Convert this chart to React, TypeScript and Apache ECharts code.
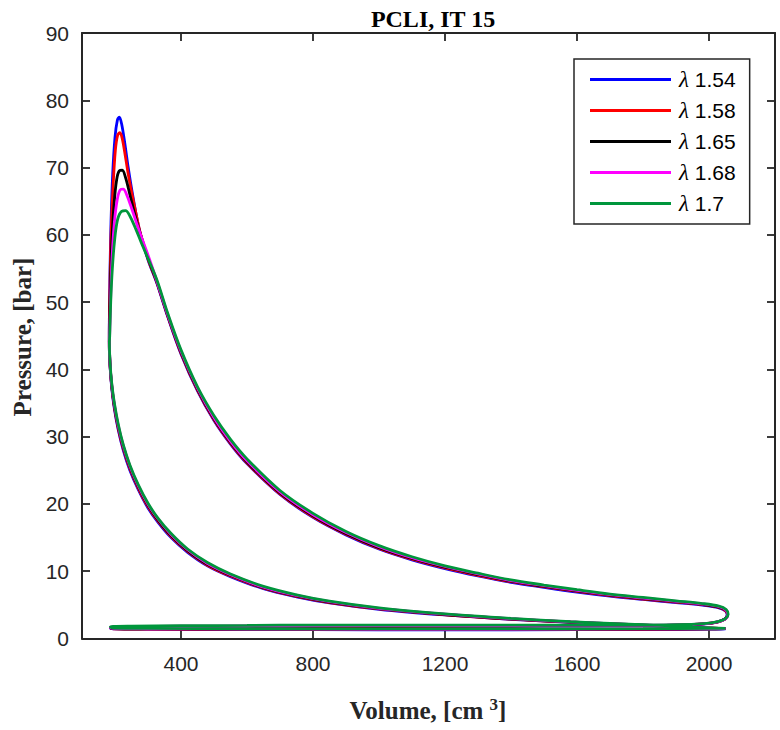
import React, { useEffect, useRef } from "react";
import * as echarts from "echarts";

const xTicks = [400, 800, 1200, 1600, 2000];
const seriesNames = ["λ 1.54", "λ 1.58", "λ 1.65", "λ 1.68", "λ 1.7"];
const seriesColors = ["#0000FF", "#FF0000", "#000000", "#FF00FF", "#00963C"];

// λ 1.54
const comp154 = [[2050,1.45],[1950,1.62],[1850,1.85],[1700,2.15],[1580,2.4],[1400,2.85],[1200,3.5],[1000,4.35],[850,5.3],[750,6.2],[650,7.4],[550,9.2],[480,10.8],[420,12.8],[370,15],[330,17.3],[300,19.4],[270,22.2],[245,25],[225,28],[210,31],[198,34.2],[190,37.3],[185,40.5],[182.5,44]];
const exp154 = [[183,48],[185,55],[188,62],[193,69],[200,74.5],[207,77],[213,77.5],[220,76.5],[230,73.5],[240,70],[255,65.5],[275,60.5],[300,56.3],[327,52.8],[360,47.8],[400,42.3],[450,36.8],[500,32.4],[550,28.9],[600,26],[700,21.4],[800,18],[900,15.4],[1000,13.3],[1100,11.7],[1200,10.4],[1300,9.3],[1400,8.35],[1500,7.6],[1600,6.9],[1700,6.3],[1800,5.8],[1900,5.35],[1980,4.95],[2030,4.55],[2050,4.1],[2055,3.5],[2048,2.9],[2025,2.45],[1980,2.15],[1900,1.98]];
const exh154 = [[1700,1.88],[1500,1.84],[1300,1.8],[1000,1.76],[800,1.73],[600,1.7],[400,1.68],[250,1.67],[195,1.64],[186,1.55]];
const int154 = [[195,1.42],[300,1.38],[600,1.33],[1000,1.3],[1400,1.3],[1800,1.35],[2000,1.4],[2050,1.45]];

// λ 1.58
const comp158 = [[2050,1.46],[1950,1.63],[1850,1.87],[1700,2.17],[1580,2.42],[1400,2.88],[1200,3.53],[1000,4.39],[850,5.35],[750,6.26],[650,7.47],[550,9.29],[480,10.9],[420,12.93],[370,15.15],[330,17.47],[300,19.6],[270,22.4],[245,25.25],[225,28.25],[210,31.2],[198,34.4],[190,37.5],[185,40.6],[182.5,44]];
const exp158 = [[183,47],[185,53],[188,60],[194,67],[201,72.5],[208,74.8],[215,75.2],[222,74.3],[232,71.5],[242,68.5],[256,65],[275,60.6],[300,56.4],[327,52.9],[360,47.9],[400,42.4],[450,36.9],[500,32.5],[550,29.0],[600,26.1],[700,21.5],[800,18.1],[900,15.5],[1000,13.4],[1100,11.8],[1200,10.5],[1300,9.4],[1400,8.45],[1500,7.7],[1600,7.0],[1700,6.38],[1800,5.87],[1900,5.42],[1980,5.02],[2030,4.62],[2050,4.15],[2056,3.52],[2049,2.9],[2025,2.45],[1980,2.16],[1900,1.99]];
const exh158 = [[1700,1.9],[1500,1.87],[1300,1.84],[1000,1.8],[800,1.77],[600,1.74],[400,1.72],[250,1.7],[195,1.67],[186,1.58]];
const int158 = [[195,1.44],[300,1.4],[600,1.35],[1000,1.32],[1400,1.32],[1800,1.37],[2000,1.42],[2050,1.46]];

// λ 1.65
const comp165 = [[2050,1.47],[1950,1.65],[1850,1.89],[1700,2.19],[1580,2.45],[1400,2.91],[1200,3.57],[1000,4.44],[850,5.41],[750,6.33],[650,7.55],[550,9.39],[480,11.02],[420,13.06],[370,15.3],[330,17.64],[300,19.8],[270,22.6],[245,25.5],[225,28.5],[210,31.4],[198,34.6],[190,37.6],[185,40.7],[183,44]];
const exp165 = [[183.5,46],[186,52],[190,58.5],[197,64.5],[205,68.2],[213,69.5],[222,69.6],[232,68.5],[245,66],[260,63],[280,59.6],[300,56.6],[327,53],[360,48.0],[400,42.55],[450,37.05],[500,32.65],[550,29.15],[600,26.25],[700,21.65],[800,18.25],[900,15.6],[1000,13.5],[1100,11.9],[1200,10.6],[1300,9.5],[1400,8.52],[1500,7.77],[1600,7.07],[1700,6.45],[1800,5.94],[1900,5.47],[1980,5.07],[2030,4.67],[2051,4.2],[2056,3.55],[2049,2.92],[2026,2.47],[1982,2.17],[1900,2.0]];
const exh165 = [[1700,1.92],[1500,1.9],[1300,1.88],[1000,1.85],[800,1.82],[600,1.79],[400,1.76],[250,1.74],[195,1.7],[186,1.6]];
const int165 = [[195,1.46],[300,1.42],[600,1.37],[1000,1.34],[1400,1.34],[1800,1.39],[2000,1.44],[2050,1.47]];

// λ 1.68
const comp168 = [[2050,1.48],[1950,1.67],[1850,1.91],[1700,2.21],[1580,2.47],[1400,2.94],[1200,3.61],[1000,4.49],[850,5.47],[750,6.4],[650,7.63],[550,9.49],[480,11.14],[420,13.19],[370,15.45],[330,17.8],[300,19.95],[270,22.75],[245,25.65],[225,28.65],[210,31.6],[198,34.8],[190,37.8],[185,40.8],[183,44]];
const exp168 = [[184,45.5],[187,51],[191,56.5],[198,61.8],[207,65.3],[216,66.7],[225,66.8],[235,66],[250,64],[265,61.8],[285,59],[305,56.3],[327,53.1],[360,48.1],[400,42.7],[450,37.2],[500,32.8],[550,29.3],[600,26.4],[700,21.8],[800,18.4],[900,15.75],[1000,13.65],[1100,12.0],[1200,10.7],[1300,9.6],[1400,8.6],[1500,7.85],[1600,7.15],[1700,6.52],[1800,6.01],[1900,5.53],[1980,5.13],[2030,4.73],[2051,4.25],[2057,3.57],[2050,2.93],[2026,2.48],[1983,2.18],[1900,2.02]];
const exh168 = [[1700,1.95],[1500,1.94],[1300,1.93],[1000,1.92],[800,1.9],[600,1.86],[400,1.82],[250,1.78],[195,1.74],[186,1.63]];
const int168 = [[195,1.5],[300,1.45],[600,1.4],[1000,1.37],[1400,1.37],[1800,1.42],[2000,1.46],[2050,1.48]];

// λ 1.7
const comp17 = [[2050,1.5],[1950,1.7],[1850,1.95],[1700,2.25],[1580,2.5],[1400,2.98],[1200,3.65],[1000,4.55],[850,5.55],[750,6.5],[650,7.75],[550,9.6],[480,11.3],[420,13.3],[370,15.6],[330,17.9],[300,20.1],[270,22.9],[245,25.8],[225,28.8],[210,31.8],[198,35],[190,38],[185,41],[183,44]];
const exp17 = [[184,45],[187,50],[192,55],[199,59.3],[208,62.3],[220,63.5],[232,63.6],[245,62.8],[260,61.2],[280,58.8],[300,56.5],[327,53.3],[360,48.3],[400,42.9],[450,37.4],[500,33.1],[550,29.6],[600,26.7],[700,22.0],[800,18.6],[900,15.9],[1000,13.8],[1100,12.15],[1200,10.8],[1300,9.7],[1400,8.7],[1500,7.95],[1600,7.25],[1700,6.6],[1800,6.1],[1900,5.6],[1980,5.2],[2030,4.8],[2052,4.3],[2058,3.6],[2050,2.95],[2027,2.5],[1985,2.2],[1900,2.05]];
const exh17 = [[1700,2.0],[1500,2.0],[1300,2.0],[1000,2.0],[800,2.0],[600,1.95],[400,1.9],[250,1.85],[195,1.8],[186,1.7]];
const int17 = [[195,1.55],[300,1.5],[600,1.45],[1000,1.42],[1400,1.42],[1800,1.46],[2000,1.5],[2050,1.5]];

const cycles = [
  [comp154, exp154, exh154, int154],
  [comp158, exp158, exh158, int158],
  [comp165, exp165, exh165, int165],
  [comp168, exp168, exh168, int168],
  [comp17, exp17, exh17, int17],
];

const AXIS_COLOR = "#262626";

export default function App() {
  const ref = useRef<HTMLDivElement>(null);
  useEffect(() => {
    document.body.style.margin = "0";
    if (!ref.current) return;
    const chart = echarts.init(ref.current, undefined, { renderer: "svg" });
    const axisLine = { show: true, onZero: false, lineStyle: { color: AXIS_COLOR, width: 2 } };
    const tick = { show: true, inside: true, length: 8, lineStyle: { color: AXIS_COLOR, width: 1.8 } };
    const labelStyle = {
      color: AXIS_COLOR,
      fontSize: 21,
      fontFamily: "Liberation Sans, Arial, sans-serif",
      formatter: (v: number) => String(v),
    };
    const series = cycles.map((parts, i) => ({
      name: seriesNames[i],
      type: "line",
      xAxisIndex: 0,
      yAxisIndex: 0,
      data: ([] as number[][]).concat(...parts),
      showSymbol: false,
      symbol: "none",
      smooth: 0.35,
      color: seriesColors[i],
      lineStyle: { color: seriesColors[i], width: 2.8 },
      z: 2 + i,
    }));
    chart.setOption({
      animation: false,
      backgroundColor: "#ffffff",
      title: {
        text: "PCLI, IT 15",
        left: 428,
        textAlign: "center",
        top: 2,
        textStyle: { fontFamily: "Liberation Serif, Times New Roman, serif", fontWeight: "bold", fontSize: 24, color: "#000" },
      },
      grid: { left: 82, top: 33, width: 693, height: 605.5, containLabel: false },
      xAxis: [
        {
          type: "value", position: "bottom", min: 100, max: 2200,
          axisLine, axisTick: { ...tick, customValues: xTicks },
          axisLabel: { ...labelStyle, margin: 14, customValues: xTicks },
          splitLine: { show: false },
        },
        {
          type: "value", position: "top", min: 100, max: 2200,
          axisLine, axisTick: { ...tick, customValues: xTicks },
          axisLabel: { show: false, customValues: xTicks },
          splitLine: { show: false },
        },
      ],
      yAxis: [
        {
          type: "value", position: "left", min: 0, max: 90, interval: 10,
          axisLine, axisTick: tick,
          axisLabel: { ...labelStyle, margin: 13 },
          splitLine: { show: false },
        },
        {
          type: "value", position: "right", min: 0, max: 90, interval: 10,
          axisLine, axisTick: tick,
          axisLabel: { show: false },
          splitLine: { show: false },
        },
      ],
      legend: {
        data: seriesNames,
        orient: "vertical",
        left: 574,
        top: 59,
        padding: [9, 14, 9, 16],
        itemGap: 8,
        itemWidth: 81,
        itemHeight: 3,
        icon: "rect",
        backgroundColor: "#ffffff",
        borderColor: AXIS_COLOR,
        borderWidth: 1.5,
        borderRadius: 0,
        formatter: (name: string) => `{l|λ} {n|${name.slice(2)}}`,
        textStyle: {
          color: "#000",
          fontSize: 21,
          lineHeight: 20,
          padding: [0, 0, 0, 3],
          fontFamily: "Liberation Sans, Arial, sans-serif",
          rich: {
            l: { fontFamily: "Liberation Serif, Times New Roman, serif", fontStyle: "italic", fontSize: 23, color: "#000", lineHeight: 20 },
            n: { fontFamily: "Liberation Sans, Arial, sans-serif", fontSize: 21, color: "#000", lineHeight: 20 },
          },
        },
      },
      graphic: [
        {
          type: "text",
          x: 22,
          y: 337,
          rotation: Math.PI / 2,
          style: {
            text: "Pressure, [bar]",
            fontFamily: "Liberation Serif, Times New Roman, serif",
            fontWeight: "bold",
            fontSize: 25,
            fill: "#262626",
            align: "center",
            verticalAlign: "middle",
          },
        },
        {
          type: "text",
          x: 428,
          y: 710,
          style: {
            text: "{a|Volume, [cm }{s|3}{a|]}",
            align: "center",
            verticalAlign: "middle",
            fill: "#262626",
            rich: {
              a: { fontFamily: "Liberation Serif, Times New Roman, serif", fontWeight: "bold", fontSize: 25, fill: "#262626", lineHeight: 28 },
              s: { fontFamily: "Liberation Serif, Times New Roman, serif", fontWeight: "bold", fontSize: 17, fill: "#262626", verticalAlign: "top", lineHeight: 17 },
            },
          },
        },
      ],
      series,
    });
    return () => chart.dispose();
  }, []);
  return <div ref={ref} style={{ width: 780, height: 730 }} />;
}
